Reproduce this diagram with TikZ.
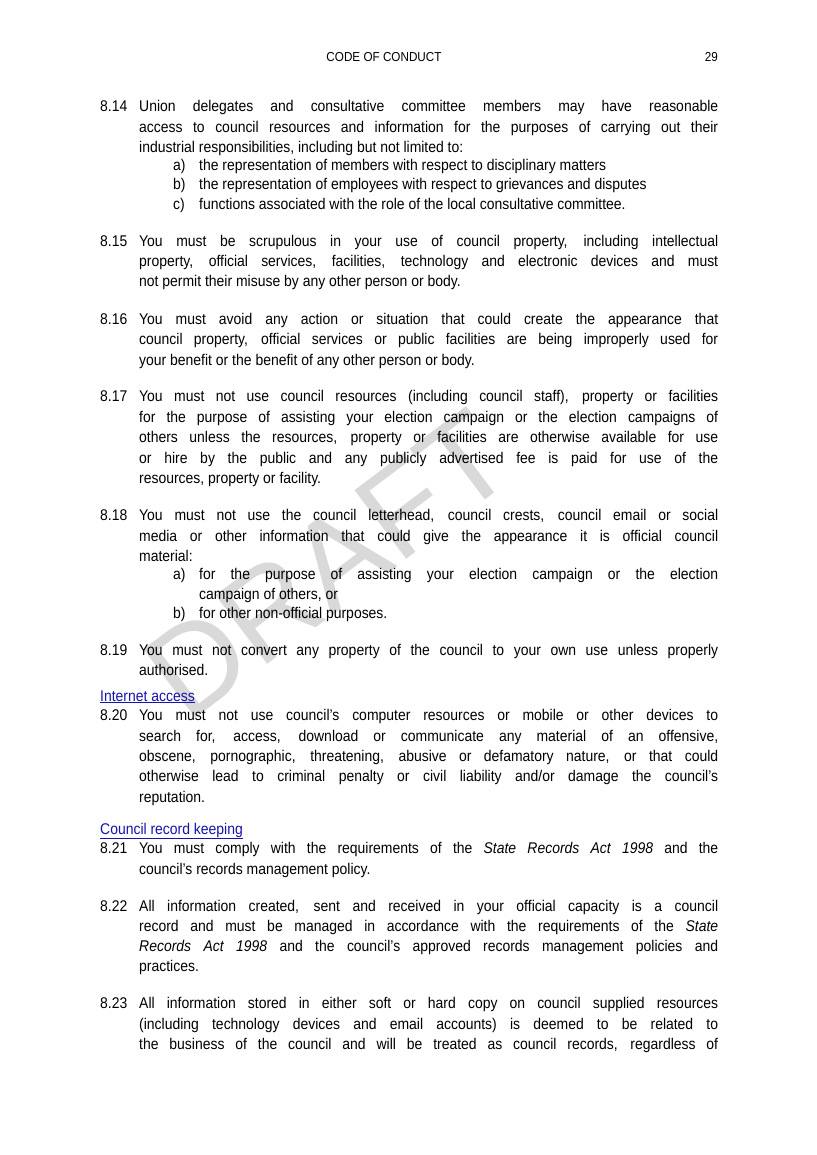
\documentclass[tikz,border=0pt]{standalone}
\usepackage{fontspec}
\setmainfont[FakeStretch=0.9]{Liberation Sans}
\newfontfamily\hdfont{Liberation Sans}
\definecolor{linkblue}{RGB}{20,20,170}
\newcommand\Jl[2]{\node[anchor=base west,inner sep=0] at (139,#1+5) {\makebox[579pt][s]{#2}};}
\newcommand\Ll[2]{\node[anchor=base west,inner sep=0] at (139,#1+5) {#2};}
\newcommand\Nl[2]{\node[anchor=base west,inner sep=0] at (100,#1+5) {#2};}
\newcommand\JAl[2]{\node[anchor=base west,inner sep=0] at (199,#1+5) {\makebox[519pt][s]{#2}};}
\newcommand\LAl[2]{\node[anchor=base west,inner sep=0] at (199,#1+5) {#2};}
\newcommand\Il[2]{\node[anchor=base west,inner sep=0] at (173,#1+5) {#2};}
\begin{document}
\begin{tikzpicture}[x=1pt,y=-1pt,every node/.style={font=\fontsize{15.5}{17}\selectfont}]
\useasboundingbox[fill=white] (0,0) rectangle (816,1155);
\node[rotate=37,text=gray!30,font=\hdfont\fontsize{125}{125}\selectfont] (wm) at (328,565) {DRAFT};
\node[anchor=base,inner sep=0,font=\fontsize{13}{14}\selectfont] (hd) at (384,62) {CODE OF CONDUCT};
\node[anchor=base east,inner sep=0,font=\fontsize{13}{14}\selectfont] (pg) at (718,62) {29};
% 8.14
\Nl{107}{8.14}
\Jl{107}{Union delegates and consultative committee members may have reasonable}
\Jl{128}{access to council resources and information for the purposes of carrying out their}
\Ll{148}{industrial responsibilities, including but not limited to:}
\Il{166}{a)}\LAl{166}{the representation of members with respect to disciplinary matters}
\Il{185}{b)}\LAl{185}{the representation of employees with respect to grievances and disputes}
\Il{205}{c)}\LAl{205}{functions associated with the role of the local consultative committee.}
% 8.15
\Nl{242}{8.15}
\Jl{242}{You must be scrupulous in your use of council property, including intellectual}
\Jl{262}{property, official services, facilities, technology and electronic devices and must}
\Ll{282}{not permit their misuse by any other person or body.}
% 8.16
\Nl{319}{8.16}
\Jl{319}{You must avoid any action or situation that could create the appearance that}
\Jl{339}{council property, official services or public facilities are being improperly used for}
\Ll{360}{your benefit or the benefit of any other person or body.}
% 8.17
\Nl{396}{8.17}
\Jl{396}{You must not use council resources (including council staff), property or facilities}
\Jl{417}{for the purpose of assisting your election campaign or the election campaigns of}
\Jl{437}{others unless the resources, property or facilities are otherwise available for use}
\Jl{458}{or hire by the public and any publicly advertised fee is paid for use of the}
\Ll{478}{resources, property or facility.}
% 8.18
\Nl{515}{8.18}
\Jl{515}{You must not use the council letterhead, council crests, council email or social}
\Jl{536}{media or other information that could give the appearance it is official council}
\Ll{556}{material:}
\Il{574}{a)}\JAl{574}{for the purpose of assisting your election campaign or the election}
\LAl{594}{campaign of others, or}
\Il{613}{b)}\LAl{613}{for other non-official purposes.}
% 8.19
\Nl{650}{8.19}
\Jl{650}{You must not convert any property of the council to your own use unless properly}
\Ll{670}{authorised.}
% Internet
\node[anchor=base west,inner sep=0,text=linkblue] (h1) at (100,701) {\underline{Internet access}};
\Nl{715}{8.20}
\Jl{715}{You must not use council's computer resources or mobile or other devices to}
\Jl{736}{search for, access, download or communicate any material of an offensive,}
\Jl{756}{obscene, pornographic, threatening, abusive or defamatory nature, or that could}
\Jl{776}{otherwise lead to criminal penalty or civil liability and/or damage the council's}
\Ll{797}{reputation.}
% Records
\node[anchor=base west,inner sep=0,text=linkblue] (h2) at (100,834) {\underline{Council record keeping}};
\Nl{848}{8.21}
\Jl{848}{You must comply with the requirements of the \textit{State Records Act 1998} and the}
\Ll{869}{council's records management policy.}
\Nl{906}{8.22}
\Jl{906}{All information created, sent and received in your official capacity is a council}
\Jl{926}{record and must be managed in accordance with the requirements of the \textit{State}}
\Jl{946}{\textit{Records Act 1998} and the council's approved records management policies and}
\Ll{966}{practices.}
\Nl{1003}{8.23}
\Jl{1003}{All information stored in either soft or hard copy on council supplied resources}
\Jl{1024}{(including technology devices and email accounts) is deemed to be related to}
\Jl{1044}{the business of the council and will be treated as council records, regardless of}
\end{tikzpicture}
\end{document}
